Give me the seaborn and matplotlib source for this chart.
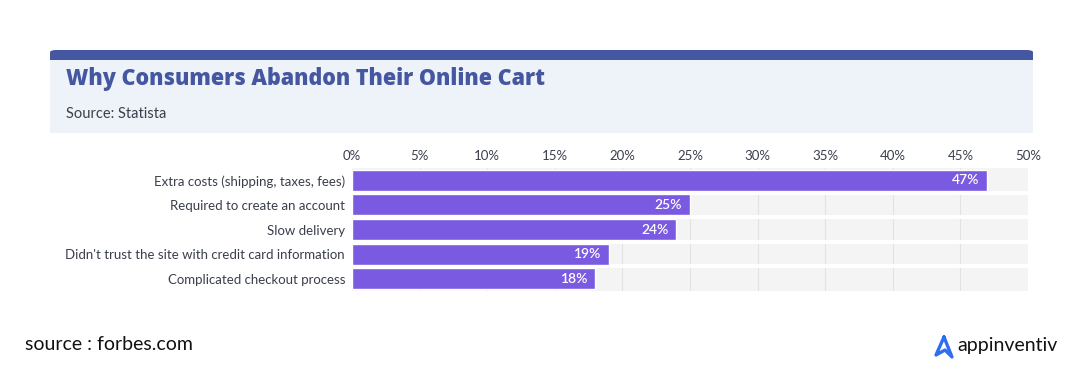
import matplotlib
matplotlib.use("Agg")
import matplotlib.pyplot as plt
import seaborn as sns
import pandas as pd
from matplotlib.patches import FancyBboxPatch, Rectangle
from matplotlib.lines import Line2D

reasons = [
    "Extra costs (shipping, taxes, fees)",
    "Required to create an account",
    "Slow delivery",
    "Didn't trust the site with credit card information",
    "Complicated checkout process",
]
shares = [47, 25, 24, 19, 18]
tick_values = [0, 5, 10, 15, 20, 25, 30, 35, 40, 45, 50]
tick_labels = [f"{v}%" for v in tick_values]

title = "Why Consumers Abandon Their Online Cart"
subtitle = "Source: Statista"
footer = "source : forbes.com"

BAR = "#7b5ae2"
NAVY = "#4557a0"
TEXT = "#3a3f4b"

sns.set_theme(style="white")
plt.rcParams["font.family"] = ["Lato", "DejaVu Sans"]

df = pd.DataFrame({"reason": reasons, "share": shares})

W, H = 1080, 383
fig = plt.figure(figsize=(W / 100, H / 100), dpi=100)
fig.patch.set_facecolor("white")

# header card
fig.patches.append(FancyBboxPatch((50 / W, 1 - 66 / H), 983 / W, 16 / H,
                                  boxstyle="round,pad=0,rounding_size=0.006",
                                  transform=fig.transFigure, fc=NAVY, ec="none"))
fig.patches.append(Rectangle((50 / W, 1 - 133 / H), 983 / W, 73 / H,
                             transform=fig.transFigure, fc="#eef3f9", ec="none"))
fig.text(66 / W, 1 - 85 / H, title, fontsize=15.5, fontweight=800,
         family=["Open Sans", "DejaVu Sans"], color=NAVY,
         va="baseline", ha="left")
fig.text(66 / W, 1 - 114 / H, subtitle, fontsize=10.5, color=TEXT,
         va="center", ha="left")

ax = fig.add_axes([352 / W, 1 - 291 / H, 676 / W, 123 / H])
ax.set_facecolor("#f4f4f4")

sns.barplot(data=df, x="share", y="reason", orient="h", color=BAR,
            width=0.86, saturation=1, ax=ax, zorder=3)

ax.set_xlim(0, 50)
ax.set_ylim(len(reasons) - 0.5, -0.5)
ax.set_xticks(tick_values, tick_labels)
ax.xaxis.tick_top()
ax.tick_params(axis="x", length=0, pad=4, labelsize=9.5, labelcolor=TEXT)
ax.tick_params(axis="y", length=0, pad=5, labelsize=9.5, labelcolor=TEXT)
ax.set_xlabel("")
ax.set_ylabel("")
for v in tick_values[1:-1]:
    ax.axvline(v, color="#e2e2e2", lw=0.8, zorder=1)
for i in range(len(reasons) - 1):
    ax.axhline(i + 0.5, color="white", lw=2.8, zorder=2)
for s in ax.spines.values():
    s.set_visible(False)

for i, v in enumerate(shares):
    ax.text(v - 0.6, i, f"{v}%", color="white", fontsize=10,
            fontweight="semibold", ha="right", va="center", zorder=4)

# footer
fig.text(25 / W, 1 - 345 / H, footer, fontsize=14, color="#111111",
         va="center", ha="left")
fig.text(957 / W, 1 - 345 / H, "appinventiv", fontsize=14, color="#111111",
         va="center", ha="left")
fig.add_artist(Line2D([944 / W, 936 / W, 945 / W, 952 / W, 944 / W],
                      [1 - 337 / H, 1 - 355 / H, 1 - 350 / H, 1 - 357 / H, 1 - 337 / H],
                      transform=fig.transFigure, color="#2f6ef0", lw=2.4,
                      solid_capstyle="round", solid_joinstyle="round"))

fig.savefig("out.png", dpi=100)
